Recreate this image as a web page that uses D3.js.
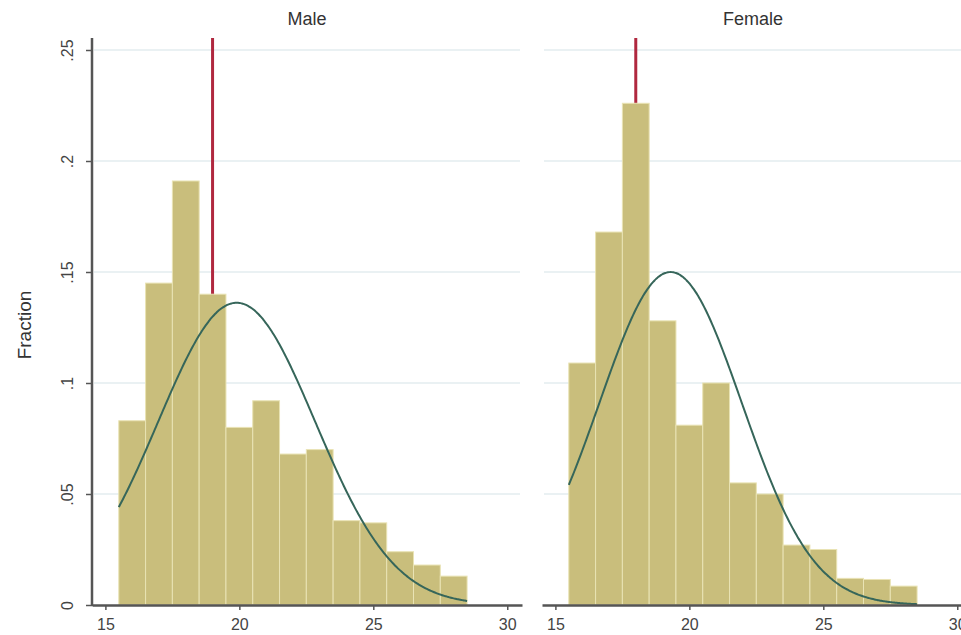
<!DOCTYPE html>
<html>
<head>
<meta charset="utf-8">
<script src="https://cdn.jsdelivr.net/npm/d3@7"></script>
<style>
  body { margin: 0; background: #fff; }
  text { font-family: "Liberation Sans", Arial, sans-serif; }
</style>
</head>
<body>
<div id="chart"></div>
<script>
// histogram bins (left edges, width 1)
const binStarts = [15.5, 16.5, 17.5, 18.5, 19.5, 20.5, 21.5, 22.5, 23.5, 24.5, 25.5, 26.5, 27.5];
const maleFrac = [0.083, 0.145, 0.191, 0.140, 0.080, 0.092, 0.068, 0.070, 0.038, 0.037, 0.024, 0.018, 0.013];
const femaleFrac = [0.109, 0.168, 0.226, 0.128, 0.081, 0.100, 0.055, 0.050, 0.027, 0.025, 0.012, 0.0115, 0.0085];
const panelNames = ["Male", "Female"];
// normal overlay parameters and marker line (median)
const normMean = [19.9, 19.3];
const normSd = [2.93, 2.66];
const markerX = [19, 18];
const yTicks = [0, 0.05, 0.1, 0.15, 0.2, 0.25];
const xTicks = [15, 20, 25, 30];

const width = 961, height = 635;
const plotTop = 38, plotBottom = 605;
const panelLeft = [92, 542], panelW = 430;

const svg = d3.select("#chart").append("svg")
       .attr("width", width)
       .attr("height", height);

const y = d3.scaleLinear().domain([0, 0.25]).range([plotBottom, 50]);

const series = [maleFrac, femaleFrac];

panelNames.forEach((name, i) => {
       const x = d3.scaleLinear().domain([14.5, 30.55]).range([panelLeft[i], panelLeft[i] + panelW]);
       const g = svg.append("g");

       // gridlines
       g.selectAll(".grid")
              .data(yTicks.slice(1))
              .enter()
              .append("line")
              .attr("x1", panelLeft[i] + 2)
              .attr("x2", panelLeft[i] + panelW - 2)
              .attr("y1", d => y(d))
              .attr("y2", d => y(d))
              .attr("stroke", "#eaf1f3")
              .attr("stroke-width", 2);

       // marker line sits behind the bars
       g.append("line")
              .attr("x1", x(markerX[i]))
              .attr("x2", x(markerX[i]))
              .attr("y1", plotTop)
              .attr("y2", plotBottom)
              .attr("stroke", "#b0283f")
              .attr("stroke-width", 3);

       // bars
       g.selectAll(".bar")
              .data(binStarts)
              .enter()
              .append("rect")
              .attr("x", d => x(d))
              .attr("width", d => x(d + 1) - x(d))
              .attr("y", (d, j) => y(series[i][j]))
              .attr("height", (d, j) => y(0) - y(series[i][j]))
              .attr("fill", "#c9be7c")
              .attr("stroke", "#e9e3b4")
              .attr("stroke-width", 1);

       // normal density curve
       const xs = d3.range(15.5, 28.51, 0.05);
       const dens = v => Math.exp(-0.5 * ((v - normMean[i]) / normSd[i]) ** 2) / (normSd[i] * Math.sqrt(2 * Math.PI));
       g.append("path")
              .datum(xs)
              .attr("d", d3.line().x(d => x(d)).y(d => y(dens(d))).curve(d3.curveBasis))
              .attr("fill", "none")
              .attr("stroke", "#36665a")
              .attr("stroke-width", 2);

       // x axis
       const xa = g.append("g")
              .attr("transform", `translate(0, ${plotBottom})`)
              .call(d3.axisBottom(x).tickValues(xTicks).tickFormat(d3.format("d")).tickSize(5).tickSizeOuter(0));
       xa.select(".domain").attr("stroke", "#555").attr("stroke-width", 2.5);
       xa.selectAll(".tick line").attr("stroke", "#555").attr("stroke-width", 1.5);
       xa.selectAll(".tick text")
              .attr("y", 0)
              .attr("dy", 0)
              .attr("transform", "translate(0, 25)")
              .style("font-size", "16px")
              .style("fill", "#444");

       // panel title
       svg.append("text")
              .attr("x", panelLeft[i] + panelW / 2 - (i ? 4 : 0))
              .attr("y", 25)
              .attr("text-anchor", "middle")
              .style("font-size", "18px")
              .style("fill", "#333")
              .text(name);
});

// y axis (left panel only)
const ya = svg.append("g")
       .attr("transform", `translate(${panelLeft[0]}, 0)`)
       .call(d3.axisLeft(y).tickValues(yTicks).tickSize(6).tickSizeOuter(0)
              .tickFormat(d => d === 0 ? "0" : d3.format(".2~f")(d).replace(/^0/, "")));
ya.select(".domain").attr("d", `M0,${plotTop}V${plotBottom + 1}`).attr("stroke", "#555").attr("stroke-width", 2.5);
ya.selectAll(".tick line").attr("stroke", "#555").attr("stroke-width", 1.5);
ya.selectAll(".tick text")
       .attr("x", 0)
       .attr("dy", 0)
       .attr("transform", "translate(-19, 0) rotate(-90)")
       .attr("text-anchor", "middle")
       .style("font-size", "16px")
       .style("fill", "#444");

svg.append("text")
       .attr("transform", `translate(31, 325) rotate(-90)`)
       .attr("text-anchor", "middle")
       .style("font-size", "19px")
       .style("fill", "#333")
       .text("Fraction");
</script>
</body>
</html>
